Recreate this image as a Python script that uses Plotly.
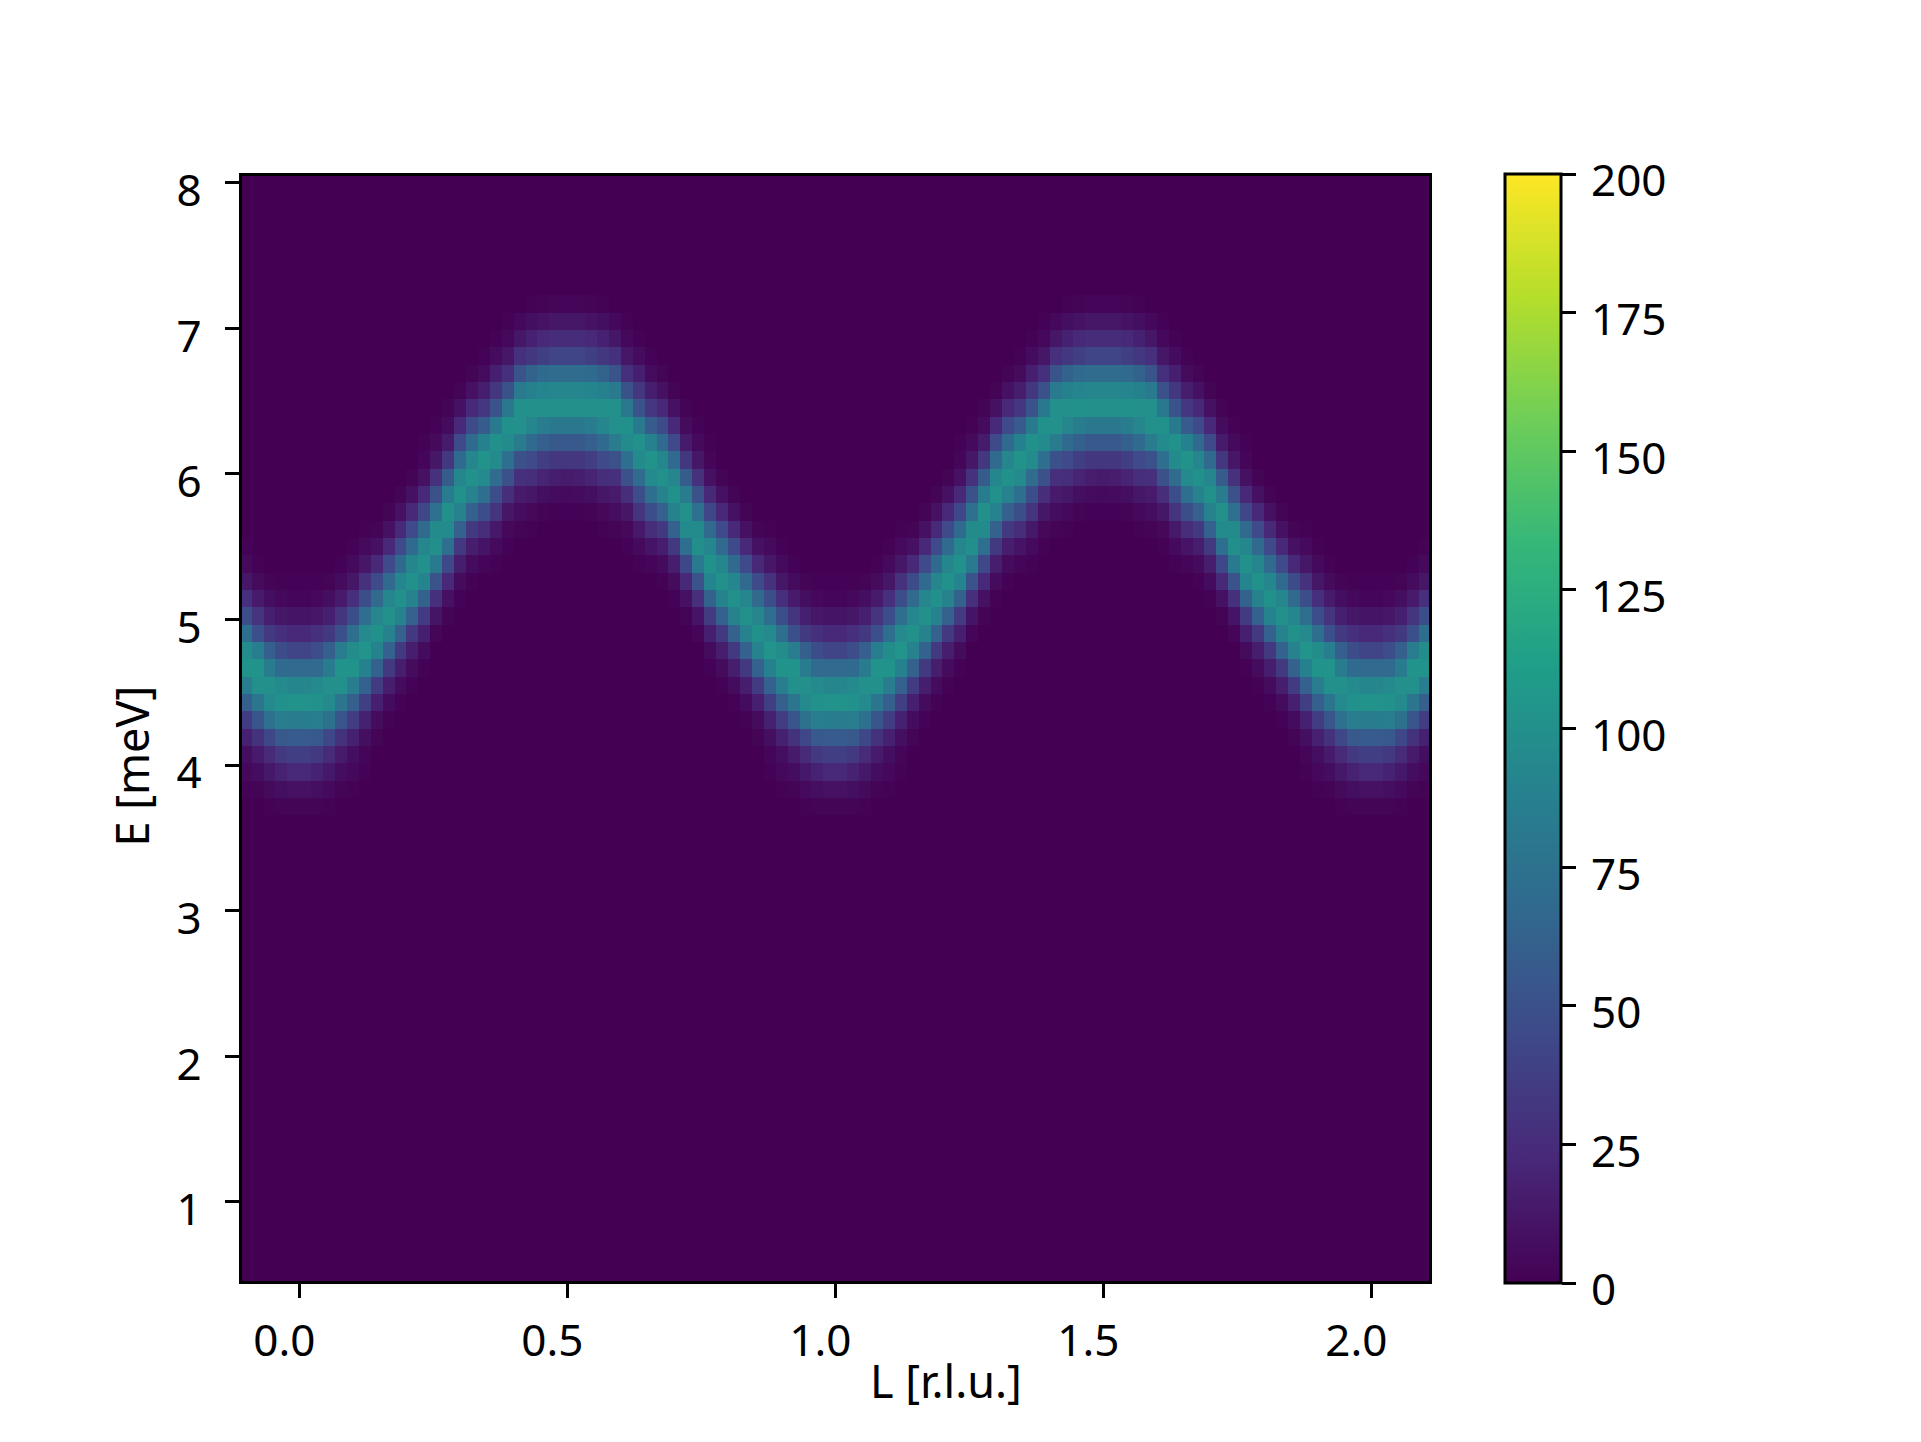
import plotly.graph_objects as go

# Axis samples of the map (L in r.l.u., E in meV)
L_FIRST, L_LAST, L_COUNT = -0.1, 2.1, 100
E_FIRST, E_LAST, E_COUNT = 0.5, 8.0, 64
# Visible limits of the axes
L_LIMITS = [-0.1078, 2.1076]
E_LIMITS = [0.4565, 8.046]

# Intensities, one column per L step over half a period
# (L = 0.011 ... 0.5). Each entry: (row counted from the top of the map, values downward).
HALF_PERIOD_COLUMNS = [
    (23, [1, 3, 11, 23, 42, 68, 92, 102, 84, 57, 37, 22, 9, 2]),
    (23, [1, 4, 12, 27, 47, 68, 95, 101, 85, 56, 34, 19, 8, 2]),
    (23, [2, 8, 17, 34, 60, 84, 100, 95, 74, 44, 24, 13, 5, 1]),
    (22, [1, 6, 14, 30, 49, 85, 102, 100, 78, 54, 29, 14, 7, 2]),
    (21, [1, 5, 12, 27, 48, 72, 98, 102, 85, 60, 36, 18, 8, 4, 1]),
    (20, [1, 5, 12, 28, 48, 72, 95, 103, 88, 62, 38, 18, 8, 3, 1]),
    (20, [2, 9, 23, 46, 69, 92, 101, 90, 62, 35, 17, 6, 2]),
    (19, [2, 9, 22, 45, 68, 92, 101, 90, 62, 34, 16, 6, 1]),
    (18, [2, 9, 22, 45, 68, 92, 101, 90, 62, 34, 16, 6, 1]),
    (17, [2, 9, 22, 45, 68, 92, 101, 90, 62, 34, 16, 6, 1]),
    (15, [1, 3, 9, 22, 43, 68, 93, 101, 91, 63, 35, 17, 6, 1]),
    (14, [1, 5, 12, 28, 50, 74, 96, 99, 82, 52, 27, 11, 3]),
    (13, [2, 6, 15, 33, 58, 84, 100, 96, 72, 44, 22, 9, 2]),
    (12, [2, 9, 22, 45, 68, 92, 101, 90, 62, 34, 16, 6, 1]),
    (11, [2, 9, 22, 45, 68, 92, 101, 90, 62, 34, 16, 6, 1]),
    (10, [1, 6, 16, 32, 57, 88, 102, 95, 72, 48, 26, 11, 3]),
    (9, [1, 6, 17, 32, 52, 82, 101, 96, 70, 48, 30, 13, 5, 1]),
    (8, [1, 4, 12, 27, 50, 80, 101, 96, 72, 50, 26, 12, 4, 1]),
    (8, [4, 12, 27, 52, 82, 100, 100, 84, 50, 27, 14, 7, 2]),
    (7, [1, 8, 18, 33, 63, 88, 100, 92, 68, 45, 26, 12, 4, 1]),
    (7, [2, 10, 22, 38, 68, 91, 101, 84, 60, 37, 20, 8, 2]),
    (7, [3, 12, 25, 42, 70, 92, 100, 80, 56, 33, 16, 6, 1]),
    (7, [3, 12, 25, 42, 70, 92, 100, 80, 56, 32, 15, 5, 1]),
]

TITLE_X = "L [r.l.u.]"
TITLE_Y = "E [meV]"
X_TICKS = [0.0, 0.5, 1.0, 1.5, 2.0]
X_TICK_LABELS = ["0.0", "0.5", "1.0", "1.5", "2.0"]
Y_TICKS = [1, 2, 3, 4, 5, 6, 7, 8]
COLORBAR_TICKS = [0, 25, 50, 75, 100, 125, 150, 175, 200]
Z_MIN, Z_MAX = 0, 200

# The picture repeats with a period of 45 columns and mirrors about L = 0.5
period = HALF_PERIOD_COLUMNS + HALF_PERIOD_COLUMNS[-2::-1]
dL = (L_LAST - L_FIRST) / (L_COUNT - 1)
dE = (E_LAST - E_FIRST) / (E_COUNT - 1)
L = [L_FIRST + i * dL for i in range(L_COUNT)]
E = [E_FIRST + j * dE for j in range(E_COUNT)]

z = [[0] * L_COUNT for _ in range(E_COUNT)]
for i in range(L_COUNT):
    first_row, values = period[(i - 5) % 45]
    for k, v in enumerate(values):
        z[E_COUNT - 1 - (first_row + k)][i] = v

# The page adds an 8px body margin, so all pixel positions are measured from there
OFF = 8
W, H = 1921 - OFF, 1442 - OFF
left, right, top, bottom = 241.5 - OFF, 1429 - OFF, 176 - OFF, 1281 - OFF
bar_left, bar_right, bar_top, bar_bottom = 1505 - OFF, 1561 - OFF, 174 - OFF, 1283 - OFF
FONT = "Noto Sans"
TICK_SIZE, TITLE_SIZE = 44, 45
tick_font = dict(family=FONT, size=TICK_SIZE, color="black")
title_font = dict(family=FONT, size=TITLE_SIZE, color="black")


def px(x):
    return x / W


def py(y):
    return (bar_bottom - y) / (bar_bottom - bar_top)


fig = go.Figure(go.Heatmap(
    x=L, y=E, z=z, zmin=Z_MIN, zmax=Z_MAX, colorscale="Viridis",
    colorbar=dict(
        x=px(bar_left), xanchor="left", xref="paper", thickness=bar_right - bar_left, thicknessmode="pixels",
        y=0, yanchor="bottom", yref="paper", len=1, lenmode="fraction",
        outlinecolor="black", outlinewidth=3, xpad=0, ypad=0,
        tickvals=COLORBAR_TICKS, ticks="outside", ticklen=14, tickwidth=2.5, tickcolor="black",
        showticklabels=False,
    ),
))
# Scale labels of the colour bar, on a value axis sharing the bar's range
fig.add_trace(go.Scatter(x=[None], y=[None], xaxis="x2", yaxis="y2", showlegend=False, hoverinfo="skip"))

axis_common = dict(
    showgrid=False, zeroline=False, showline=True, mirror=True, linecolor="black", linewidth=3,
    ticks="outside", ticklen=14, tickwidth=2.5, tickcolor="black", tickfont=tick_font,
)
fig.update_layout(
    width=W, height=H, autosize=False, paper_bgcolor="white", plot_bgcolor="rgba(0,0,0,0)",
    margin=dict(l=0, r=0, t=bar_top, b=H - bar_bottom), showlegend=False,
    xaxis=dict(
        domain=[px(left), px(right)], range=L_LIMITS,
        tickvals=X_TICKS, ticktext=X_TICK_LABELS, ticklabelshift=-15, ticklabelstandoff=5, **axis_common,
    ),
    yaxis=dict(
        domain=[py(bottom), py(top)], range=E_LIMITS,
        tickvals=Y_TICKS, ticklabelshift=8, ticklabelstandoff=14, **axis_common,
    ),
    xaxis2=dict(domain=[px(bar_left), px(bar_right)], anchor="y2", visible=False),
    yaxis2=dict(
        domain=[0, 1], side="right", anchor="free", position=px(bar_right), range=[Z_MIN, Z_MAX],
        tickvals=COLORBAR_TICKS, showgrid=False, zeroline=False, showline=False, ticks="",
        tickfont=tick_font, ticklabelshift=7, ticklabelstandoff=29,
    ),
    annotations=[
        dict(text=TITLE_X, xref="paper", yref="paper", x=px(946 - OFF), y=py(1380 - OFF),
             showarrow=False, xanchor="center", yanchor="middle", font=title_font),
        dict(text=TITLE_Y, xref="paper", yref="paper", x=px(130.5 - OFF), y=py(766 - OFF), textangle=-90,
             showarrow=False, xanchor="center", yanchor="middle", font=title_font),
    ],
)
fig.write_html("out.html")
